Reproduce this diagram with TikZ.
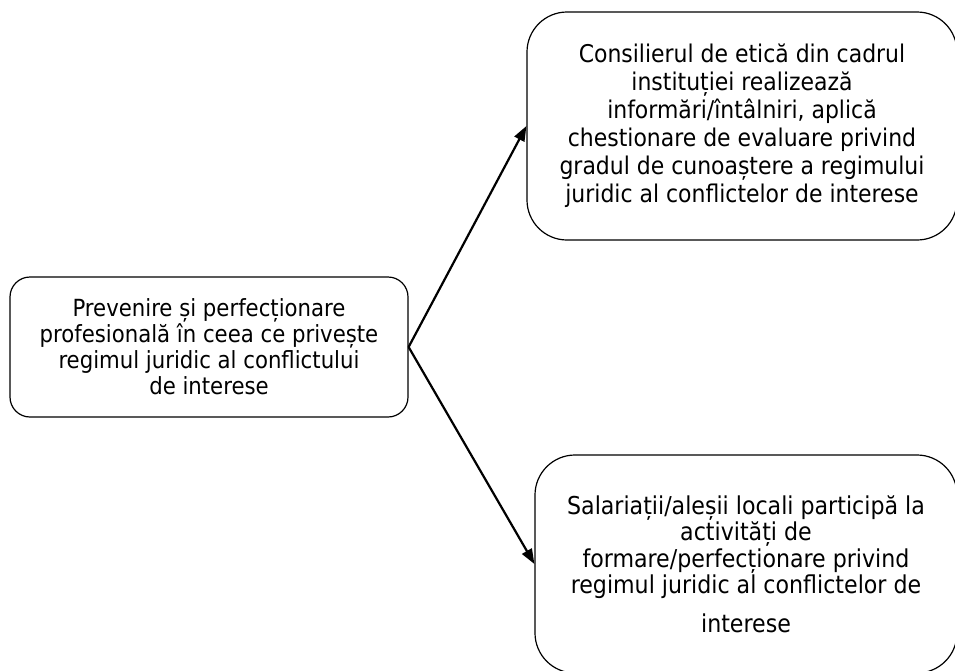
\documentclass[tikz,border=0pt]{standalone}
\usepackage{fontspec}
\setmainfont{DejaVu Sans Condensed}
\usetikzlibrary{arrows.meta}
\begin{document}
\begin{tikzpicture}[x=1pt,y=-1pt,
  box/.style={draw=black, line width=1.2pt, align=center, inner sep=0pt},
  link/.style={line width=2.2pt, -{Triangle[length=15pt,width=11pt]}}]
\useasboundingbox (0,0) rectangle (955,670);
\clip (0,0) rectangle (955,670);

% source box
\node[box, rounded corners=20pt, minimum width=398pt, minimum height=140pt,
      font=\fontsize{23.6}{26}\selectfont]
  (src) at (209,347)
  {Prevenire și perfecționare\\profesională în ceea ce privește\\regimul juridic al conflictului\\de interese};

% upper target
\node[box, rounded corners=40pt, minimum width=430pt, minimum height=228pt,
      font=\fontsize{24.4}{28}\selectfont]
  (ethics) at (742,126)
  {Consilierul de etică din cadrul\\instituției realizează\\informări/întâlniri, aplică\\chestionare de evaluare privind\\gradul de cunoaștere a regimului\\juridic al conflictelor de interese};

% lower target
\node[box, rounded corners=40pt, minimum width=422pt, minimum height=218pt,
      font=\fontsize{24.6}{26.5}\selectfont]
  (training) at (746,564)
  {Salariații/aleșii locali participă la\\activități de\\formare/perfecționare privind\\regimul juridic al conflictelor de\\[12pt]interese};

\draw[link] (src.east) -- (ethics.west);
\draw[link] (src.east) -- (training.west);
\end{tikzpicture}
\end{document}
